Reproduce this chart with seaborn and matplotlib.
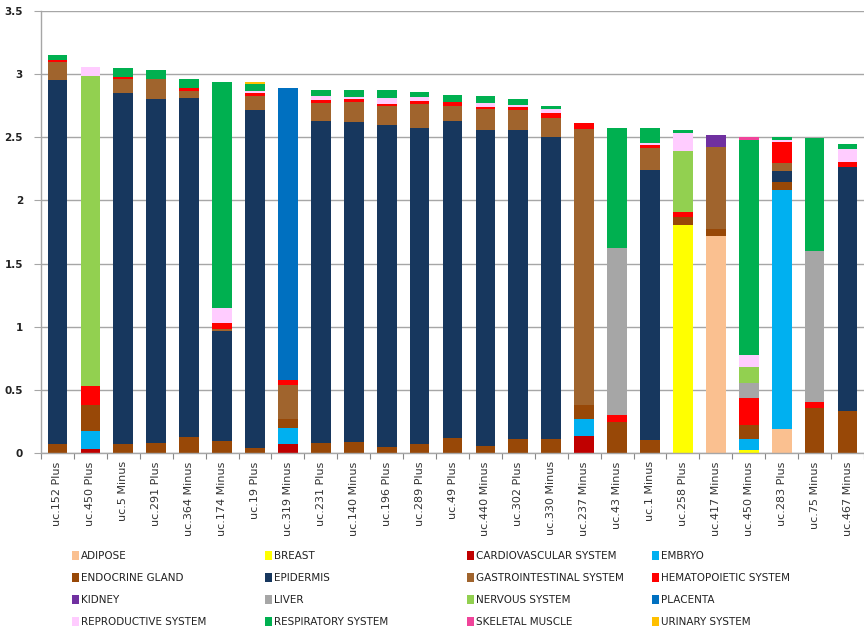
import matplotlib
matplotlib.use("Agg")
import matplotlib.pyplot as plt
from matplotlib.patches import Patch
import numpy as np
import pandas as pd
import seaborn as sns

probes = ["uc.152 Plus", "uc.450 Plus", "uc.5 Minus", "uc.291 Plus", "uc.364 Minus",
          "uc.174 Minus", "uc.19 Plus", "uc.319 Minus", "uc.231 Plus", "uc.140 Minus",
          "uc.196 Plus", "uc.289 Plus", "uc.49 Plus", "uc.440 Minus", "uc.302 Plus",
          "uc.330 Minus", "uc.237 Minus", "uc.43 Minus", "uc.1 Minus", "uc.258 Plus",
          "uc.417 Minus", "uc.450 Minus", "uc.283 Plus", "uc.75 Minus", "uc.467 Minus"]

tissues = ["ADIPOSE", "BREAST", "CARDIOVASCULAR SYSTEM", "EMBRYO",
           "ENDOCRINE GLAND", "EPIDERMIS", "GASTROINTESTINAL SYSTEM", "HEMATOPOIETIC SYSTEM",
           "KIDNEY", "LIVER", "NERVOUS SYSTEM", "PLACENTA",
           "REPRODUCTIVE SYSTEM", "RESPIRATORY SYSTEM", "SKELETAL MUSCLE", "URINARY SYSTEM"]

tissue_colors = ["#FAC090", "#FFFF00", "#C00000", "#00B0F0",
                 "#984807", "#17375E", "#A0642D", "#FF0000",
                 "#7030A0", "#A6A6A6", "#92D050", "#0070C0",
                 "#FFCCFF", "#00B050", "#F0449A", "#FFC000"]

adipose = [0, 0, 0, 0, 0, 0, 0, 0, 0, 0, 0, 0, 0, 0, 0, 0, 0, 0, 0, 0, 1.72, 0, 0.19, 0, 0]
breast = [0, 0, 0, 0, 0, 0, 0, 0, 0, 0, 0, 0, 0, 0, 0, 0, 0, 0, 0, 1.805, 0, 0.024, 0, 0, 0]
cardiovascular = [0, 0.03, 0, 0, 0, 0, 0, 0.07, 0, 0, 0, 0, 0, 0, 0, 0, 0.135, 0, 0, 0, 0, 0, 0, 0, 0]
embryo = [0, 0.145, 0, 0, 0, 0, 0, 0.13, 0, 0, 0, 0, 0, 0, 0, 0, 0.132, 0, 0, 0, 0, 0.087, 1.892, 0, 0]
endocrine = [0.07, 0.205, 0.07, 0.08, 0.13, 0.095, 0.04, 0.07, 0.08, 0.09, 0.05, 0.07, 0.116,
             0.055, 0.11, 0.11, 0.113, 0.248, 0.103, 0.061, 0.054, 0.111, 0.066, 0.354, 0.335]
epidermis = [2.88, 0, 2.78, 2.72, 2.68, 0.87, 2.676, 0, 2.55, 2.53, 2.547, 2.50, 2.513,
             2.50, 2.447, 2.39, 0, 0, 2.138, 0, 0, 0, 0.088, 0, 1.927]
gastrointestinal = [0.15, 0, 0.11, 0.16, 0.06, 0.015, 0.113, 0.27, 0.14, 0.16, 0.15, 0.19, 0.118,
                    0.167, 0.159, 0.155, 2.188, 0, 0.171, 0, 0.651, 0, 0.058, 0, 0]
hematopoietic = [0.01, 0.15, 0.02, 0, 0.02, 0.05, 0.019, 0.04, 0.026, 0.02, 0.014, 0.026, 0.035,
                 0.018, 0.021, 0.035, 0.047, 0.049, 0.027, 0.045, 0, 0.211, 0.166, 0.052, 0.04]
kidney = [0, 0, 0, 0, 0, 0, 0, 0, 0, 0, 0, 0, 0, 0, 0, 0, 0, 0, 0, 0, 0.093, 0, 0, 0, 0]
liver = [0, 0, 0, 0, 0, 0, 0, 0, 0, 0, 0, 0, 0, 0, 0, 0, 0, 1.323, 0, 0, 0, 0.119, 0, 1.196, 0]
nervous = [0, 2.455, 0, 0, 0, 0, 0, 0, 0, 0, 0, 0, 0, 0, 0, 0, 0, 0, 0, 0.48, 0, 0.131, 0, 0, 0]
placenta = [0, 0, 0, 0, 0, 0, 0, 2.31, 0, 0, 0, 0, 0, 0, 0, 0, 0, 0, 0, 0, 0, 0, 0, 0, 0]
reproductive = [0, 0.075, 0, 0, 0, 0.12, 0.018, 0, 0.034, 0.02, 0.052, 0.034, 0,
                0.035, 0.018, 0.031, 0, 0, 0.018, 0.14, 0, 0.093, 0.018, 0, 0.105]
respiratory = [0.04, 0, 0.07, 0.07, 0.07, 1.79, 0.055, 0, 0.045, 0.055, 0.061, 0.04, 0.053,
               0.05, 0.045, 0.026, 0, 0.956, 0.114, 0.025, 0, 1.702, 0.026, 0.895, 0.04]
skeletal = [0, 0, 0, 0, 0, 0, 0, 0, 0, 0, 0, 0, 0, 0, 0, 0, 0, 0, 0, 0, 0, 0.026, 0, 0, 0]
urinary = [0, 0, 0, 0, 0, 0, 0.018, 0, 0, 0, 0, 0, 0, 0, 0, 0, 0, 0, 0, 0, 0, 0, 0, 0, 0]

series = [adipose, breast, cardiovascular, embryo, endocrine, epidermis, gastrointestinal,
          hematopoietic, kidney, liver, nervous, placenta, reproductive, respiratory,
          skeletal, urinary]

yticks = [0, 0.5, 1, 1.5, 2, 2.5, 3, 3.5]
ytick_labels = ["0", "0.5", "1", "1.5", "2", "2.5", "3", "3.5"]

sns.set_theme(style="white")
plt.rcParams["font.family"] = ["DejaVu Sans"]

fig = plt.figure(figsize=(8.64, 6.31), dpi=100)
ax = fig.add_axes([41 / 864, (631 - 453) / 631, 1 - 41 / 864, 442 / 631])

# stacked bars, one seaborn layer per tissue
bottom = np.zeros(len(probes))
for name, vals, col in zip(tissues, series, tissue_colors):
    vals = np.asarray(vals, dtype=float)
    df = pd.DataFrame({"probe": probes, "value": vals})
    sns.barplot(data=df, x="probe", y="value", order=probes, color=col,
                width=0.6, bottom=bottom, linewidth=0, saturation=1,
                errorbar=None, ax=ax)
    bottom = bottom + vals

ax.set_ylim(0, 3.5)
ax.set_xlim(-0.5, 24.28)
ax.set_yticks(yticks)
ax.set_yticklabels(ytick_labels, fontsize=7.5, fontweight="bold", color="#222222")
ax.yaxis.grid(True, color="#A6A6A6", linewidth=1.0)
ax.set_axisbelow(True)
ax.set_xlabel("")
ax.set_ylabel("")

ax.set_xticks(range(len(probes)))
ax.set_xticklabels(probes, rotation=90, fontsize=8, color="#333333")
ax.set_xticks(np.arange(-0.5, len(probes), 1.0), minor=True)
ax.tick_params(axis="x", which="major", length=0, pad=6)
ax.tick_params(axis="x", which="minor", length=4, width=0.8, color="#888888",
               direction="out", bottom=True)
ax.tick_params(axis="y", length=5, width=0.8, color="#A6A6A6", left=True, pad=8)

for side in ["top", "right"]:
    ax.spines[side].set_visible(False)
for side in ["left", "bottom"]:
    ax.spines[side].set_color("#A6A6A6")
    ax.spines[side].set_linewidth(1.0)

# legend laid out as four columns of four entries
col_x = [72 / 864, 265 / 864, 467 / 864, 652 / 864]
top_y = 1 - 551 / 631
for c in range(4):
    idx = [r * 4 + c for r in range(4)]
    handles = [Patch(facecolor=tissue_colors[i], edgecolor="none") for i in idx]
    labels = [tissues[i] for i in idx]
    fig.legend(handles, labels, loc="upper left", bbox_to_anchor=(col_x[c], top_y),
               frameon=False, handlelength=0.7, handleheight=0.9, handletextpad=0.2,
               labelspacing=1.15, borderpad=0, borderaxespad=0,
               prop={"family": ["DejaVu Sans"], "size": 7.5},
               labelcolor="#222222")

fig.savefig("out.png", dpi=100)
